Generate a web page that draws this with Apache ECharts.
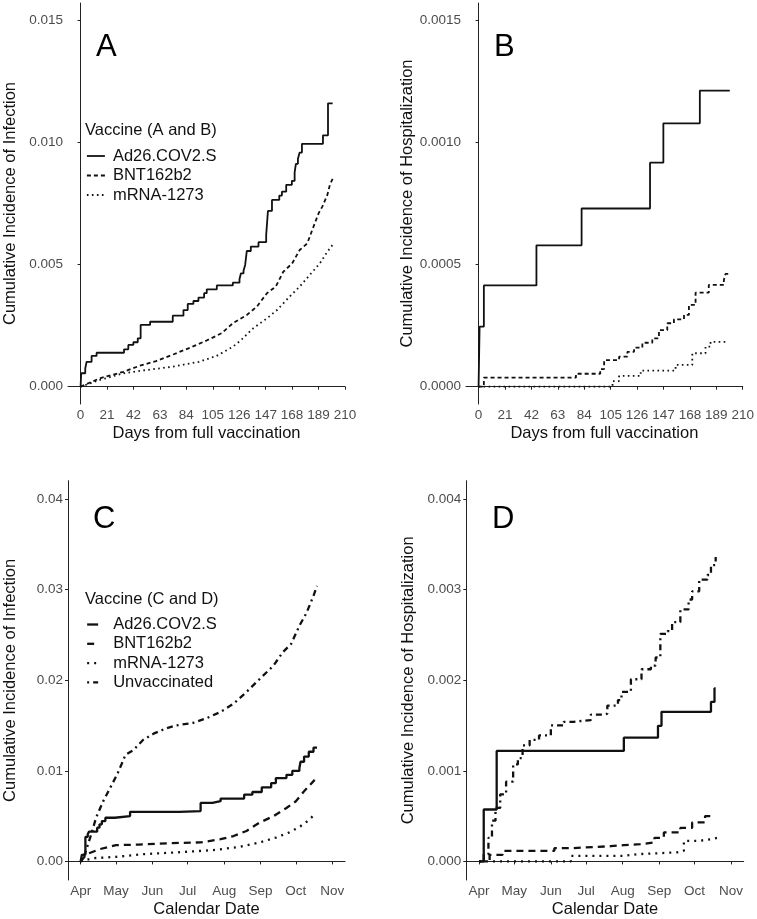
<!DOCTYPE html>
<html><head><meta charset="utf-8">
<script src="https://cdn.jsdelivr.net/npm/echarts@6/dist/echarts.min.js"></script>
<style>html,body{margin:0;padding:0;background:#fff}#c{width:757px;height:919px}</style>
</head><body><div id="c"></div>
<script>
// ---------- Panel A: cumulative incidence of infection vs days from full vaccination ----------
const aDaysAd26 = [0,0.5,3.7,4.8,8.75,12.7,34.5,37.9,41.9,45.4,47.7,55.2,73.2,81.7,85.1,89.6,93.6,98.1,100.2,108.2,120.9,126.2,127.3,129.4,130.7,132,135.2,141.3,147.4,148.8,152,157.8,159.9,163.3,167.8,170,171,172.6,173.9,175.8,192.5,196.5,200.2];
const aIncAd26 = [0,0.00055,0.00075,0.00102,0.00126,0.00139,0.00153,0.00171,0.00182,0.00198,0.00253,0.00266,0.00291,0.00314,0.00339,0.00351,0.00365,0.00383,0.00399,0.00415,0.00426,0.0044,0.00464,0.00475,0.00499,0.00556,0.00574,0.00592,0.00622,0.0072,0.00765,0.00783,0.00799,0.00827,0.00843,0.00878,0.00913,0.00933,0.00959,0.00995,0.0103,0.01161,0.01161];
const aDaysBNT = [0,15,34,47,60,74,87,100,112,121,132,140,148,155,161,168,174,180,185,189,192,196,198,201];
const aIncBNT = [0,0.00034,0.00061,0.00086,0.00105,0.00133,0.0016,0.00189,0.00219,0.0026,0.00294,0.00328,0.00383,0.0041,0.00471,0.00505,0.0056,0.00587,0.00656,0.0071,0.00738,0.00786,0.00827,0.00861];
const aDaysMRNA = [0,15,34,52,73,94,108,121,127,137,148,156,166,174,182,190,196,201];
const aIncMRNA = [0,0.00027,0.00055,0.00068,0.00082,0.00102,0.00126,0.00164,0.00189,0.00239,0.0028,0.00314,0.00369,0.0041,0.00458,0.00505,0.00553,0.00587];

// ---------- Panel B: cumulative incidence of hospitalization vs days ----------
const bDaysAd26 = [0,0.8,4.2,46,81.9,136.3,146.9,175.9,199.7];
const bHospAd26 = [0,0.000246,0.000415,0.000579,0.00073,0.000918,0.001079,0.001213,0.001213];
const bDaysBNT = [0,4.2,77.4,96.7,99.8,111.7,118.3,123.6,130.2,138.1,143.4,150,155.3,163.3,167.2,172.5,183,195,196.3,199.7];
const bHospBNT = [0,0.000037,0.000053,0.000072,0.000109,0.000123,0.000143,0.00016,0.00018,0.000198,0.000232,0.00026,0.000276,0.000294,0.000335,0.000385,0.000417,0.000437,0.000462,0.000462];
const bDaysMRNA = [0,106.5,111.7,128.9,156.6,169.9,180.4,184.4,196.3];
const bHospMRNA = [0,0.000023,0.000044,0.000066,0.000089,0.000137,0.000164,0.000184,0.000184];

// ---------- Panel C: cumulative incidence of infection vs calendar date ----------
const cDateAd26 = ['2021-04-01','2021-04-02','2021-04-05','2021-04-07','2021-04-08','2021-04-15','2021-04-17','2021-04-19','2021-04-22','2021-04-30','2021-05-13','2021-06-24','2021-07-12','2021-07-22','2021-07-29','2021-08-18','2021-08-25','2021-09-02','2021-09-10','2021-09-14','2021-09-23','2021-09-28','2021-10-04','2021-10-05','2021-10-08','2021-10-12','2021-10-16','2021-10-19'];
const cIncAd26 = [0,0.00073,0.0027,0.003,0.00328,0.00372,0.00409,0.00445,0.00482,0.005,0.00547,0.00555,0.00646,0.00664,0.00693,0.00737,0.00766,0.00818,0.00865,0.0092,0.00956,0.01,0.0103,0.011,0.01157,0.0121,0.01255,0.01255];
const cDateBNT = ['2021-04-01','2021-04-06','2021-04-17','2021-05-01','2021-05-20','2021-06-13','2021-07-12','2021-07-29','2021-08-09','2021-08-20','2021-08-31','2021-09-12','2021-09-23','2021-10-01','2021-10-08','2021-10-17'];
const cIncBNT = [0,0.0008,0.00135,0.0018,0.00185,0.002,0.0021,0.00245,0.0028,0.00336,0.00427,0.005,0.0059,0.00664,0.00774,0.009];
const cDateMRNA = ['2021-04-01','2021-04-12','2021-05-01','2021-05-24','2021-06-21','2021-07-22','2021-08-14','2021-08-31','2021-09-14','2021-09-25','2021-10-04','2021-10-11','2021-10-17'];
const cIncMRNA = [0,0.00036,0.0005,0.0008,0.00099,0.00124,0.0016,0.00208,0.00263,0.00318,0.0038,0.00445,0.00518];
const cDateUnvax = ['2021-04-01','2021-04-05','2021-04-10','2021-04-14','2021-04-20','2021-04-26','2021-05-02','2021-05-06','2021-05-09','2021-05-16','2021-05-24','2021-06-02','2021-06-13','2021-06-21','2021-07-06','2021-07-17','2021-07-29','2021-08-09','2021-08-20','2021-08-31','2021-09-12','2021-09-20','2021-09-27','2021-10-04','2021-10-10','2021-10-16','2021-10-19'];
const cIncUnvax = [0,0.00099,0.003,0.0048,0.0066,0.0081,0.0096,0.0108,0.01175,0.0123,0.0134,0.0141,0.0147,0.015,0.0153,0.0158,0.0165,0.0174,0.0187,0.0201,0.0216,0.0231,0.024,0.026,0.0274,0.0293,0.0304];

// ---------- Panel D: cumulative incidence of hospitalization vs calendar date ----------
const dDateAd26 = ['2021-04-01','2021-04-05','2021-04-16','2021-08-02','2021-08-31','2021-09-03','2021-10-15','2021-10-18','2021-10-19'];
const dHospAd26 = [0,0.000573,0.001219,0.001365,0.001496,0.00165,0.00176,0.00191,0.00191];
const dDateUnvax = ['2021-04-01','2021-04-05','2021-04-09','2021-04-12','2021-04-15','2021-04-19','2021-04-24','2021-04-30','2021-05-04','2021-05-08','2021-05-14','2021-05-22','2021-06-01','2021-06-12','2021-06-20','2021-07-05','2021-07-16','2021-07-19','2021-07-28','2021-07-31','2021-08-08','2021-08-17','2021-08-25','2021-08-29','2021-09-02','2021-09-08','2021-09-12','2021-09-19','2021-09-26','2021-09-29','2021-10-05','2021-10-12','2021-10-15','2021-10-19'];
const dHospUnvax = [0,0.00008,0.00026,0.00045,0.00059,0.00074,0.00088,0.00107,0.00114,0.00128,0.00134,0.00139,0.0015,0.00154,0.00156,0.00162,0.00163,0.00172,0.00178,0.00187,0.00201,0.00212,0.00216,0.00225,0.00251,0.00254,0.00264,0.00278,0.00289,0.00298,0.00311,0.00316,0.00327,0.00336];
const dDateBNT = ['2021-04-01','2021-04-10','2021-04-21','2021-06-04','2021-06-18','2021-07-22','2021-08-02','2021-08-16','2021-08-28','2021-09-05','2021-09-19','2021-09-29','2021-10-10','2021-10-15'];
const dHospBNT = [0,0.000073,0.000117,0.000146,0.000168,0.00018,0.00019,0.00021,0.00026,0.00032,0.00037,0.00043,0.0005,0.0005];
const dDateMRNA = ['2021-04-01','2021-06-18','2021-08-02','2021-08-14','2021-09-16','2021-09-22','2021-10-04','2021-10-15','2021-10-21'];
const dHospMRNA = [0,0.000062,0.00008,0.0001,0.000117,0.000226,0.000245,0.000263,0.000263];

// ---------- Names & ticks ----------
const seriesNames = ['Ad26.COV2.S','BNT162b2','mRNA-1273','Unvaccinated'];
const panelLetters = ['A','B','C','D'];
const legendTitles = ['Vaccine (A and B)','Vaccine (C and D)'];
const dayTicks = [0,21,42,63,84,105,126,147,168,189,210];
const monthTicks = ['2021-04-01','2021-05-01','2021-06-01','2021-07-01','2021-08-01','2021-09-01','2021-10-01','2021-11-01'];
const monthLabels = ['Apr','May','Jun','Jul','Aug','Sep','Oct','Nov'];
const yTicksA = [0,0.005,0.01,0.015];
const yTicksB = [0,0.0005,0.001,0.0015];
const yTicksC = [0,0.01,0.02,0.03,0.04];
const yTicksD = [0,0.001,0.002,0.003,0.004];

// ---------- helpers ----------
const FONT = 'Liberation Sans';
const INK = '#111';
function ts(s){ return Date.parse(s + 'T00:00:00Z'); }
const monthTs = monthTicks.map(ts);
function pairsDay(xs, ys){ return xs.map((x,i)=>[x, ys[i]]); }
function pairsDate(xs, ys){ return xs.map((x,i)=>[ts(x), ys[i]]); }

const thin = {
  solid:{type:'solid', width:1.8},
  dashed:{type:[4,3], width:1.8},
  dotted:{type:[1.6,3.4], width:1.8}
};
const thick = {
  solid:{type:'solid', width:2.3},
  dashed:{type:[7,5], width:2.3},
  dotted:{type:[2,5], width:2.3},
  dotdash:{type:[2,4,6,4], width:2.3}
};

function line(name, data, idx, style, step){
  return {
    type:'line', name, data, xAxisIndex:idx, yAxisIndex:idx,
    step: step ? 'end' : false, symbol:'none', smooth:false,
    lineStyle:Object.assign({color:INK, cap:'butt'}, style),
    itemStyle:{color:INK}, animation:false, silent:true
  };
}

const axisLineStyle = {show:true, lineStyle:{color:'#222', width:1}};
const labelBase = {color:'#4d4d4d', fontSize:13.5, fontFamily:FONT};
const nameBase = {color:INK, fontSize:16.5, fontFamily:FONT};

function dayAxis(idx){
  return {
    type:'value', gridIndex:idx, min:-10, max:210,
    axisLine:axisLineStyle, splitLine:{show:false},
    axisTick:{show:true, length:3, lineStyle:{color:'#222'}, customValues:dayTicks},
    axisLabel:Object.assign({margin:4, customValues:dayTicks}, labelBase),
    name:'Days from full vaccination', nameLocation:'middle', nameGap:21, nameTextStyle:nameBase
  };
}
function dateAxis(idx){
  return {
    type:'value', gridIndex:idx,
    min: ts('2021-04-01') - 10.8*864e5, max: ts('2021-04-01') + 224.8*864e5,
    axisLine:axisLineStyle, splitLine:{show:false},
    axisTick:{show:true, length:3, lineStyle:{color:'#222'}, customValues:monthTs},
    axisLabel:Object.assign({margin:4, customValues:monthTs,
      formatter:(v)=>{ const k = monthTs.indexOf(v); return k>=0 ? monthLabels[k] : ''; }}, labelBase),
    name:'Calendar Date', nameLocation:'middle', nameGap:21, nameTextStyle:nameBase
  };
}
function yAxis(idx, min, max, ticks, dec, title){
  return {
    type:'value', gridIndex:idx, min, max,
    axisLine:axisLineStyle, splitLine:{show:false},
    axisTick:{show:true, length:3, lineStyle:{color:'#222'}, customValues:ticks},
    axisLabel:Object.assign({margin:5, customValues:ticks, formatter:(v)=>v.toFixed(dec)}, labelBase),
    name:title, nameLocation:'middle', nameGap:49, nameTextStyle:nameBase
  };
}

const letterStyle = {fontSize:31, fontWeight:'normal', color:'#000', fontFamily:FONT};
const legTitleStyle = {fontSize:16.5, fontWeight:'normal', color:INK, fontFamily:FONT};

const option = {
  backgroundColor:'#fff',
  animation:false,
  title:[
    {text:panelLetters[0], left:96, top:32, padding:0, textStyle:letterStyle},
    {text:panelLetters[1], left:494, top:32, padding:0, textStyle:letterStyle},
    {text:panelLetters[2], left:93, top:504, padding:0, textStyle:letterStyle},
    {text:panelLetters[3], left:492, top:504, padding:0, textStyle:letterStyle},
    {text:legendTitles[0], left:85, top:122, padding:0, textStyle:legTitleStyle},
    {text:legendTitles[1], left:85, top:591, padding:0, textStyle:legTitleStyle}
  ],
  legend:[
    {left:86, top:147.5, orient:'vertical', padding:0, itemWidth:18, itemHeight:14, itemGap:2.5,
     selectedMode:false, itemStyle:{opacity:0},
     textStyle:{fontSize:16.5, color:INK, fontFamily:FONT, padding:[0,0,0,3]},
     data:[
       {name:seriesNames[0], lineStyle:Object.assign({color:INK}, thin.solid), itemStyle:{opacity:0}},
       {name:seriesNames[1], lineStyle:Object.assign({color:INK}, thin.dashed), itemStyle:{opacity:0}},
       {name:seriesNames[2], lineStyle:Object.assign({color:INK}, thin.dotted), itemStyle:{opacity:0}}
     ]},
    {left:86, top:616, orient:'vertical', padding:0, itemWidth:11, itemHeight:14, itemGap:2.3,
     selectedMode:false, itemStyle:{opacity:0},
     textStyle:{fontSize:16.5, color:INK, fontFamily:FONT, padding:[0,0,0,10]},
     data:[
       {name:seriesNames[0], lineStyle:Object.assign({color:INK}, thick.solid), itemStyle:{opacity:0}},
       {name:seriesNames[1], lineStyle:Object.assign({color:INK}, thick.dashed), itemStyle:{opacity:0}},
       {name:seriesNames[2], lineStyle:Object.assign({color:INK}, thick.dotted), itemStyle:{opacity:0}},
       {name:seriesNames[3], lineStyle:Object.assign({color:INK}, thick.dotdash), itemStyle:{opacity:0}}
     ]}
  ],
  grid:[
    {left:68, top:3, width:277, height:401},
    {left:466, top:3, width:277.7, height:401},
    {left:68, top:480.7, width:277, height:402},
    {left:466.3, top:480.7, width:277.4, height:402}
  ],
  xAxis:[dayAxis(0), dayAxis(1), dateAxis(2), dateAxis(3)],
  yAxis:[
    yAxis(0, -0.000709, 0.01572, yTicksA, 3, 'Cumulative Incidence of Infection'),
    yAxis(1, -0.0000709, 0.001572, yTicksB, 4, 'Cumulative Incidence of Hospitalization'),
    yAxis(2, -0.002049, 0.042005, yTicksC, 2, 'Cumulative Incidence of Infection'),
    yAxis(3, -0.0002049, 0.0042005, yTicksD, 3, 'Cumulative Incidence of Hospitalization')
  ],
  series:[
    line(seriesNames[2], pairsDay(aDaysMRNA, aIncMRNA), 0, thin.dotted, false),
    line(seriesNames[1], pairsDay(aDaysBNT, aIncBNT), 0, thin.dashed, false),
    line(seriesNames[0], pairsDay(aDaysAd26, aIncAd26), 0, thin.solid, true),

    line(seriesNames[2], pairsDay(bDaysMRNA, bHospMRNA), 1, thin.dotted, true),
    line(seriesNames[1], pairsDay(bDaysBNT, bHospBNT), 1, thin.dashed, true),
    line(seriesNames[0], pairsDay(bDaysAd26, bHospAd26), 1, thin.solid, true),

    line(seriesNames[3], pairsDate(cDateUnvax, cIncUnvax), 2, thick.dotdash, false),
    line(seriesNames[2], pairsDate(cDateMRNA, cIncMRNA), 2, thick.dotted, false),
    line(seriesNames[1], pairsDate(cDateBNT, cIncBNT), 2, thick.dashed, false),
    line(seriesNames[0], pairsDate(cDateAd26, cIncAd26), 2, thick.solid, true),

    line(seriesNames[3], pairsDate(dDateUnvax, dHospUnvax), 3, thick.dotdash, true),
    line(seriesNames[2], pairsDate(dDateMRNA, dHospMRNA), 3, thick.dotted, true),
    line(seriesNames[1], pairsDate(dDateBNT, dHospBNT), 3, thick.dashed, true),
    line(seriesNames[0], pairsDate(dDateAd26, dHospAd26), 3, thick.solid, true)
  ]
};

const chart = echarts.init(document.getElementById('c'), null, {renderer:'canvas'});
chart.setOption(option);
</script>
</body></html>
